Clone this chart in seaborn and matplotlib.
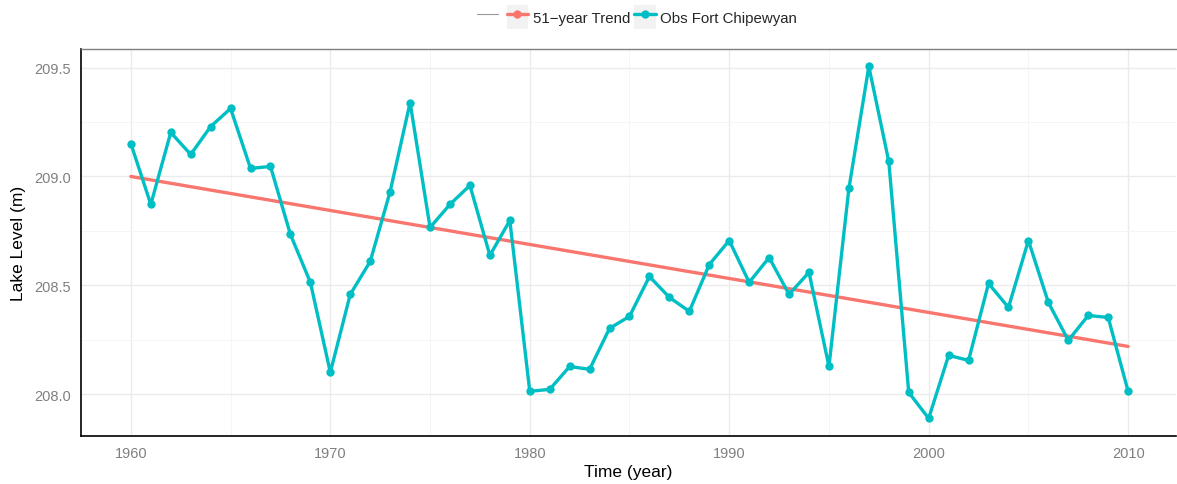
import numpy as np
import pandas as pd
import matplotlib.pyplot as plt
import seaborn as sns
from matplotlib.lines import Line2D
from matplotlib.patches import Rectangle
from matplotlib.legend_handler import HandlerTuple
from matplotlib.ticker import MultipleLocator

years = list(range(1960, 2011))
levels = [209.151, 208.872, 209.202, 209.101, 209.229, 209.312, 209.037, 209.046,
          208.734, 208.514, 208.101, 208.459, 208.610, 208.931, 209.339, 208.766,
          208.872, 208.959, 208.638, 208.798, 208.014, 208.023, 208.128, 208.115,
          208.303, 208.358, 208.541, 208.445, 208.381, 208.596, 208.706, 208.514,
          208.628, 208.459, 208.560, 208.128, 208.945, 209.505, 209.069, 208.009,
          207.890, 208.179, 208.156, 208.509, 208.399, 208.706, 208.422, 208.248,
          208.362, 208.353, 208.014]
trend_years = [1960, 2010]
trend_levels = [209.0, 208.22]

red = '#F8766D'
teal = '#00BFC4'

sns.set_style('white')
plt.rcParams['font.family'] = ['Liberation Sans', 'DejaVu Sans']

fig = plt.figure(figsize=(11.77, 4.85), dpi=100)
ax = fig.add_axes([81/1177, 1-437/485, (1176-81)/1177, (437-50)/485])

df = pd.DataFrame({'year': years, 'level': levels})
tr = pd.DataFrame({'year': trend_years, 'level': trend_levels})

sns.lineplot(data=tr, x='year', y='level', color=red, linewidth=2.4, ax=ax, zorder=3)
sns.lineplot(data=df, x='year', y='level', color=teal, linewidth=2.4, marker='o',
             markersize=6, markeredgewidth=0, ax=ax, zorder=4)

ax.set_xlim(1957.5, 2012.4)
ax.set_ylim(207.809, 209.585)
ax.xaxis.set_major_locator(MultipleLocator(10))
ax.xaxis.set_minor_locator(MultipleLocator(5))
ax.yaxis.set_major_locator(MultipleLocator(0.5))
ax.yaxis.set_minor_locator(MultipleLocator(0.25))
ax.yaxis.set_major_formatter(plt.FuncFormatter(lambda v, p: f'{v:.1f}'))
ax.grid(which='major', color='#EBEBEB', linewidth=1.0)
ax.grid(which='minor', color='#F4F4F4', linewidth=0.6)
ax.set_axisbelow(True)

for s in ['left', 'bottom']:
    ax.spines[s].set_color('black')
    ax.spines[s].set_linewidth(1.2)
ax.spines['top'].set_color('#7F7F7F')
ax.spines['top'].set_linewidth(1.0)
ax.spines['right'].set_visible(False)

ax.tick_params(axis='both', which='major', direction='out', length=4, width=1,
               color='#4D4D4D', labelcolor='#808080', labelsize=10.5, pad=3)
ax.tick_params(which='minor', length=0)

ax.set_xlabel('Time (year)', fontsize=12.5, color='black', labelpad=3)
ax.set_ylabel('Lake Level (m)', fontsize=12.5, color='black', labelpad=6)

bg = lambda: Rectangle((0, 0), 1, 1, facecolor='#F2F2F2', edgecolor='none')
h0 = Line2D([], [], color='#999999', linewidth=0.8, linestyle='-')
h1 = (bg(), Line2D([], [], color=red, linewidth=2.4, marker='o', markersize=6, markeredgewidth=0))
h2 = (bg(), Line2D([], [], color=teal, linewidth=2.4, marker='o', markersize=6, markeredgewidth=0))
fig.legend([h0, h1, h2], ['', '51\u2212year Trend', 'Obs Fort Chipewyan'],
           handler_map={tuple: HandlerTuple(ndivide=1, pad=0)},
           loc='center', bbox_to_anchor=(0.541, 1-18/485), ncol=3, frameon=False,
           fontsize=10.8, handlelength=1.45, handletextpad=0.3, columnspacing=0.25,
           handleheight=2.0)

fig.savefig('out.png', dpi=100)
